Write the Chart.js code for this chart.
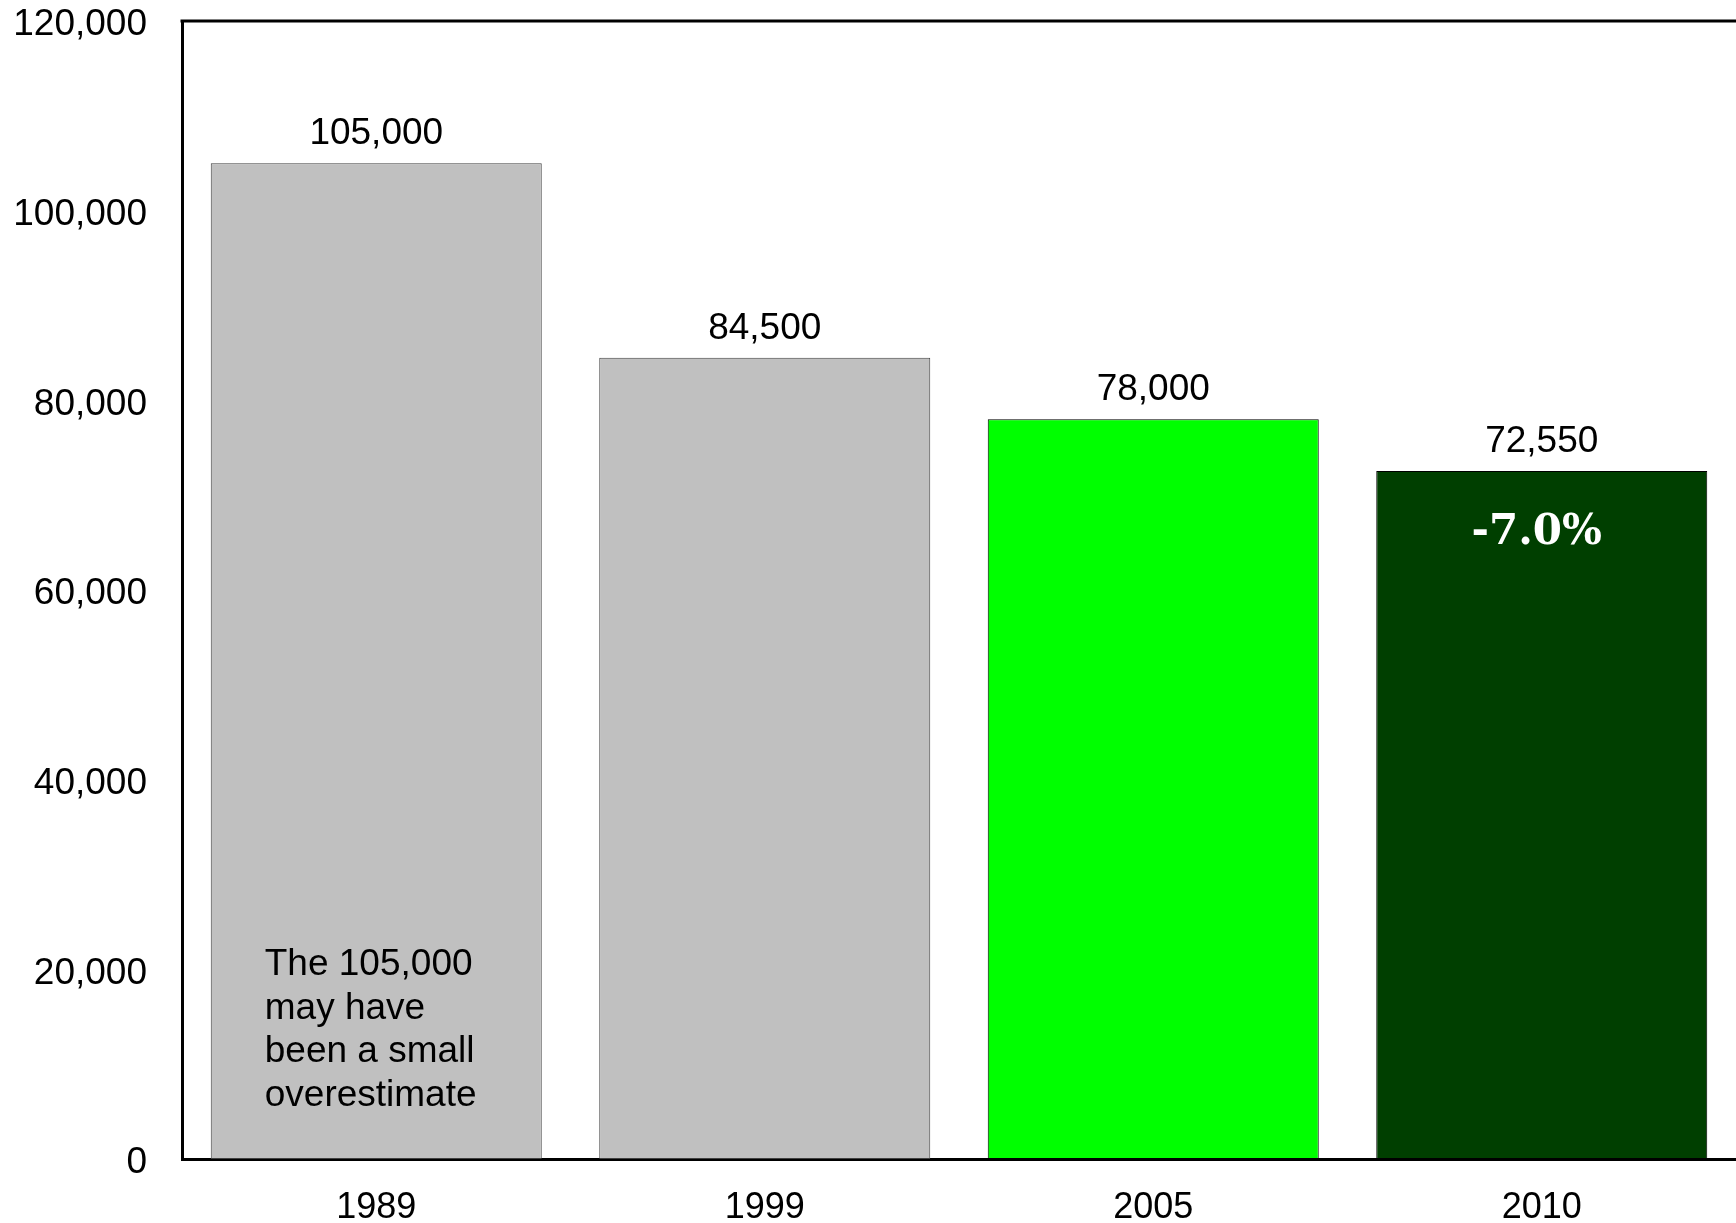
<!DOCTYPE html>
<html>
<head>
<meta charset="utf-8">
<script src="https://cdn.jsdelivr.net/npm/chart.js@4/dist/chart.umd.min.js"></script>
<style>
  body { margin: 0; background: #fff; }
  #wrap { width: 1736px; height: 1223px; position: relative; }
</style>
</head>
<body>
<div id="wrap"><canvas id="grafico"></canvas></div>
<script>
// datos
const years = ['1989', '1999', '2005', '2010'];
const values = [105000, 84500, 78000, 72550];
const barColors = ['#c0c0c0', '#c0c0c0', '#00ff00', '#003f00'];
const edgeColors = ['#404040', '#404040', '#000000', '#000000'];
const yTicks = [0, 20000, 40000, 60000, 80000, 100000, 120000];
const noteLines = ['The 105,000', 'may have', 'been a small', 'overestimate'];
const changeText = '-7.0%';

const fmt = n => n.toLocaleString('en-US');

// etiquetas encima de las barras + notas
const etiquetas = {
  id: 'etiquetas',
  afterDatasetsDraw(chart) {
    const ctx = chart.ctx;
    const area = chart.chartArea;
    const bars = chart.getDatasetMeta(0).data;
    ctx.save();
    // linea de arriba
    ctx.strokeStyle = '#000';
    ctx.lineWidth = 3;
    ctx.beginPath();
    ctx.moveTo(area.left - 1.5, area.top);
    ctx.lineTo(area.right, area.top);
    ctx.stroke();

    ctx.fillStyle = '#000';
    ctx.font = '37px "Liberation Sans", Arial, sans-serif';
    ctx.textAlign = 'center';
    ctx.textBaseline = 'alphabetic';
    bars.forEach((bar, i) => {
      ctx.fillText(fmt(values[i]), bar.x, bar.y - 19);
    });

    // nota dentro de la primera barra
    const b0 = bars[0];
    ctx.textAlign = 'left';
    noteLines.forEach((t, i) => {
      ctx.fillText(t, b0.x - b0.width / 2 + 54, 975 + i * 43.5);
    });

    // porcentaje en la ultima barra
    const b3 = bars[bars.length - 1];
    ctx.fillStyle = '#fff';
    ctx.font = 'bold 42px "DejaVu Serif", serif';
    ctx.textAlign = 'center';
    ctx.fillText(changeText, b3.x - 5, b3.y + 73);
    ctx.restore();
  }
};

const ctx = document.getElementById('grafico').getContext('2d');
const chart = new Chart(ctx, {
  type: 'bar',
  data: {
    labels: years,
    datasets: [{
      data: values,
      backgroundColor: barColors,
      borderColor: edgeColors,
      borderWidth: 1,
      borderSkipped: false,
      categoryPercentage: 1,
      barPercentage: 0.852
    }]
  },
  options: {
    responsive: true,
    maintainAspectRatio: false,
    animation: false,
    layout: { padding: { top: 21, right: 0, left: 0, bottom: 0 } },
    plugins: { legend: { display: false }, tooltip: { enabled: false } },
    scales: {
      x: {
        grid: { display: false, drawTicks: false },
        border: { display: true, color: '#000', width: 3 },
        ticks: {
          color: '#000',
          padding: 27,
          font: { family: '"Liberation Sans", Arial, sans-serif', size: 36 }
        },
        afterFit(scale) {
          scale.height = 64;
          scale.paddingLeft = 0;
          scale.paddingRight = 0;
        }
      },
      y: {
        min: 0,
        max: 120000,
        afterBuildTicks(scale) { scale.ticks = yTicks.map(v => ({ value: v })); },
        grid: { display: false, drawTicks: false },
        border: { display: true, color: '#000', width: 3 },
        ticks: {
          color: '#000',
          padding: 35,
          labelOffset: 4,
          callback: v => fmt(v),
          font: { family: '"Liberation Sans", Arial, sans-serif', size: 37 }
        },
        afterFit(scale) {
          scale.width = 182;
          scale.paddingTop = 0;
          scale.paddingBottom = 0;
        }
      }
    }
  },
  plugins: [etiquetas]
});
</script>
</body>
</html>
